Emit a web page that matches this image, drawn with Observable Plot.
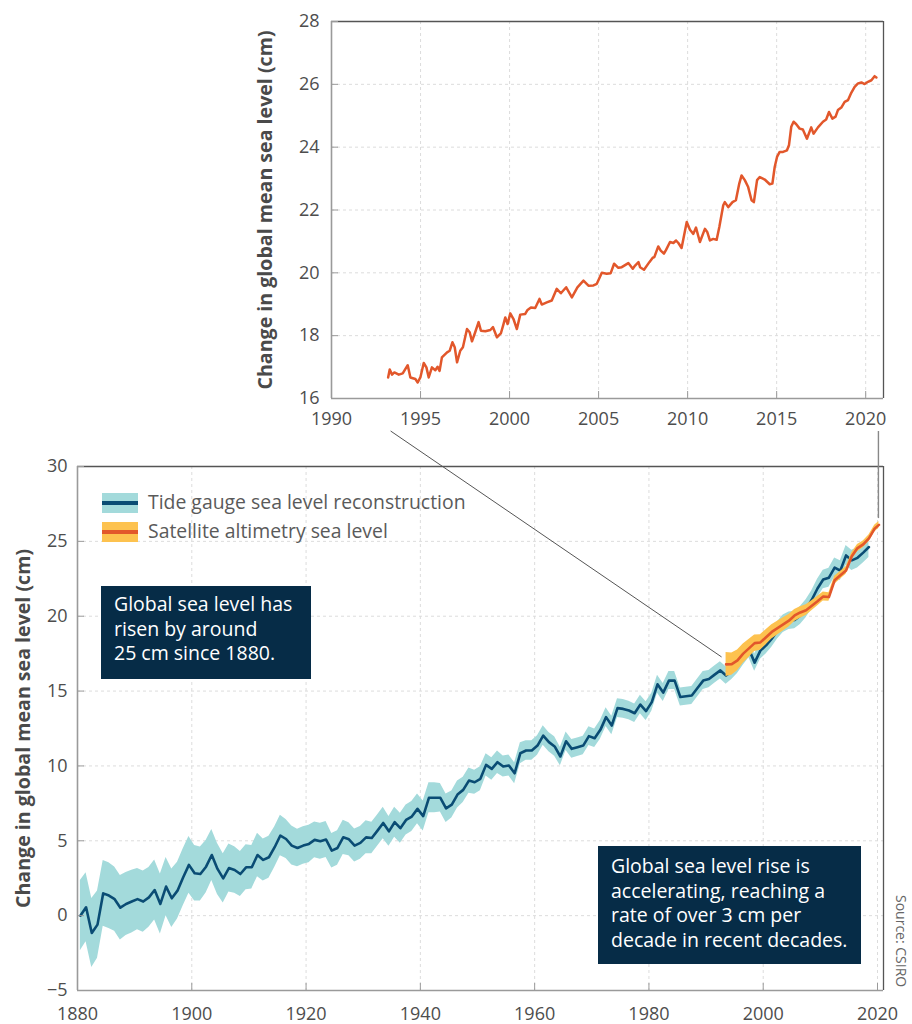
<!DOCTYPE html>
<html>
<head>
<meta charset="utf-8">
<script src="https://cdn.jsdelivr.net/npm/d3@7"></script>
<script src="https://cdn.jsdelivr.net/npm/@observablehq/plot@0.6"></script>
<style>
  body { margin: 0; background: #fff; }
  #wrap { position: relative; width: 912px; height: 1024px; overflow: hidden; font-family: 'Open Sans', sans-serif; }
  #wrap svg { position: absolute; left: 0; }
  [aria-label="y-axis label"] text { font-weight: 700; font-size: 19.6px; fill: #4a4a4a; }
  .note { position: absolute; background: #062c47; color: #fff; font-size: 19.5px; line-height: 24.5px; box-sizing: border-box; }
  .leg { position: absolute; font-size: 19.4px; color: #5a5a5a; white-space: nowrap; }
  .sw { position: absolute; width: 36px; height: 20px; }
  .src { position: absolute; writing-mode: vertical-rl; font-size: 14px; color: #666; white-space: nowrap; }
</style>
</head>
<body>
<div id="wrap"></div>
<script>
// ---------------- data ----------------
const tideStartYear = 1880;
const tideLevel = [
  0.0, 0.56, -1.16, -0.6, 1.49, 1.34, 1.1, 0.53, 0.78, 0.94,
  1.1, 0.94, 1.22, 1.71, 0.78, 1.94, 1.16, 1.67, 2.56, 3.39,
  2.83, 2.78, 3.27, 4.05, 3.12, 2.49, 3.18, 3.05, 2.78, 3.23,
  3.23, 4.05, 3.72, 3.9, 4.57, 5.35, 5.12, 4.68, 4.52, 4.68,
  4.79, 5.06, 4.97, 5.08, 4.34, 4.52, 5.23, 5.1, 4.68, 4.86,
  5.23, 5.19, 5.68, 6.19, 5.63, 6.24, 5.84, 6.39, 6.62, 7.13,
  6.65, 7.87, 7.87, 7.87, 7.17, 7.42, 8.09, 8.4, 9.02, 8.91,
  9.14, 10.07, 9.8, 10.25, 9.96, 10.03, 9.51, 10.85, 11.03, 11.03,
  11.36, 12.03, 11.59, 11.3, 10.63, 11.65, 11.14, 11.25, 11.36, 11.99,
  11.85, 12.41, 13.26, 12.7, 13.86, 13.81, 13.7, 13.52, 14.1, 13.66,
  14.26, 15.45, 14.9, 15.7, 15.7, 14.6, 14.65, 14.7, 15.2, 15.7,
  15.8, 16.1, 16.38, 16.04, 16.35, 16.75, 17.3, 17.8, 16.9, 17.7,
  18.05, 18.5, 19.05, 19.5, 19.7, 19.75, 20.05, 20.5, 21.1, 21.85,
  22.45, 22.57, 23.25, 23.05, 24.06, 23.73, 23.9, 24.25, 24.62
];
const tideUnc = [
  2.35, 2.3, 2.3, 2.25, 2.2, 2.2, 2.15, 2.15, 2.1, 2.1,
  2.05, 2.05, 2.0, 2.0, 2.0, 1.95, 1.95, 1.9, 1.9, 1.9,
  1.85, 1.8, 1.75, 1.7, 1.7, 1.65, 1.6, 1.55, 1.5, 1.5,
  1.45, 1.45, 1.4, 1.4, 1.35, 1.35, 1.3, 1.3, 1.25, 1.25,
  1.25, 1.2, 1.2, 1.2, 1.15, 1.15, 1.15, 1.1, 1.1, 1.1,
  1.1, 1.05, 1.05, 1.05, 1.0, 1.0, 1.0, 1.0, 1.0, 1.0,
  1.0, 1.0, 1.0, 0.95, 0.95, 0.9, 0.9, 0.85, 0.85, 0.8,
  0.8, 0.75, 0.75, 0.75, 0.7, 0.7, 0.7, 0.7, 0.65, 0.65,
  0.65, 0.65, 0.65, 0.65, 0.62, 0.62, 0.62, 0.62, 0.62, 0.62,
  0.62, 0.62, 0.62, 0.62, 0.62, 0.62, 0.62, 0.62, 0.62, 0.62,
  0.6, 0.6, 0.6, 0.6, 0.6, 0.6, 0.6, 0.6, 0.6, 0.6,
  0.58, 0.58, 0.58, 0.58, 0.58, 0.58, 0.58, 0.58, 0.58, 0.58,
  0.58, 0.58, 0.58, 0.58, 0.58, 0.58, 0.6, 0.6, 0.6, 0.62,
  0.62, 0.64, 0.64, 0.66, 0.66, 0.68, 0.68, 0.7, 0.7
];
const satYears = [
  1993.5, 1994.5, 1995.5, 1996.5, 1997.5, 1998.5, 1999.5, 2000.5, 2001.5, 2002.5,
  2003.5, 2004.5, 2005.5, 2006.5, 2007.5, 2008.5, 2009.5, 2010.5, 2011.5, 2012.5,
  2013.5, 2014.5, 2015.5, 2016.5, 2017.5, 2018.5, 2019.5, 2020.25
];
const satLevel = [
  16.78, 16.8, 17.05, 17.5, 17.85, 18.2, 18.25, 18.6, 18.95, 19.2,
  19.45, 19.7, 20.05, 20.25, 20.4, 20.7, 21.0, 21.32, 21.28, 22.4,
  22.73, 23.06, 24.0, 24.55, 24.8, 25.2, 25.85, 26.1
];
const satUnc = [
  0.8, 0.75, 0.7, 0.65, 0.6, 0.55, 0.52, 0.5, 0.48, 0.46,
  0.44, 0.42, 0.4, 0.38, 0.36, 0.34, 0.32, 0.3, 0.28, 0.27,
  0.26, 0.25, 0.24, 0.24, 0.23, 0.23, 0.22, 0.22
];
// inset: satellite altimetry, sub-annual series [year, cm]
const satInset = [
  [1993.18,16.67],[1993.27,16.92],[1993.4,16.76],[1993.53,16.83],[1993.78,16.76],[1994.0,16.8],
  [1994.28,17.06],[1994.43,16.67],[1994.71,16.62],[1994.84,16.51],[1994.99,16.67],[1995.18,17.13],
  [1995.33,16.99],[1995.46,16.67],[1995.64,16.99],[1995.83,16.9],[1995.96,17.01],[1996.07,16.88],
  [1996.2,17.31],[1996.49,17.47],[1996.64,17.52],[1996.79,17.79],[1996.92,17.63],[1997.05,17.15],
  [1997.23,17.52],[1997.38,17.63],[1997.61,18.21],[1997.76,18.11],[1997.89,17.82],[1998.07,18.11],
  [1998.26,18.43],[1998.39,18.16],[1998.64,18.14],[1998.92,18.18],[1999.07,18.27],[1999.29,17.95],
  [1999.51,18.07],[1999.66,18.37],[1999.76,18.58],[1999.89,18.37],[2000.04,18.71],[2000.22,18.53],
  [2000.41,18.21],[2000.6,18.67],[2000.88,18.69],[2001.01,18.82],[2001.2,18.9],[2001.44,18.88],
  [2001.68,19.17],[2001.81,18.99],[2002.09,19.06],[2002.37,19.12],[2002.65,19.49],[2002.88,19.35],
  [2003.18,19.54],[2003.5,19.22],[2003.81,19.54],[2004.15,19.75],[2004.43,19.59],[2004.71,19.6],
  [2004.9,19.65],[2005.18,20.0],[2005.46,19.97],[2005.68,19.99],[2005.87,20.29],[2006.11,20.16],
  [2006.3,20.18],[2006.67,20.31],[2006.92,20.13],[2007.05,20.23],[2007.24,20.34],[2007.33,20.18],
  [2007.55,20.1],[2007.85,20.34],[2008.04,20.48],[2008.13,20.5],[2008.35,20.84],[2008.49,20.71],
  [2008.67,20.61],[2008.79,20.73],[2009.01,20.98],[2009.2,20.95],[2009.35,21.03],[2009.48,20.95],
  [2009.66,20.79],[2009.95,21.62],[2010.13,21.37],[2010.32,21.24],[2010.47,21.44],[2010.69,20.98],
  [2010.97,21.4],[2011.1,21.3],[2011.25,21.03],[2011.44,21.08],[2011.63,21.05],[2011.78,21.46],
  [2012.0,22.15],[2012.09,22.25],[2012.28,22.09],[2012.52,22.25],[2012.71,22.31],[2012.9,22.84],
  [2013.03,23.1],[2013.21,22.95],[2013.4,22.73],[2013.59,22.31],[2013.72,22.25],[2013.9,22.95],
  [2014.05,23.05],[2014.33,22.97],[2014.61,22.82],[2014.76,22.84],[2014.89,23.37],[2015.02,23.69],
  [2015.17,23.85],[2015.36,23.85],[2015.58,23.9],[2015.69,24.06],[2015.82,24.65],[2015.95,24.81],
  [2016.1,24.73],[2016.29,24.59],[2016.47,24.56],[2016.7,24.27],[2016.94,24.63],[2017.07,24.43],
  [2017.32,24.63],[2017.6,24.81],[2017.78,24.88],[2017.94,25.12],[2018.13,24.91],[2018.31,24.97],
  [2018.44,25.18],[2018.63,25.26],[2018.82,25.44],[2019.01,25.5],[2019.19,25.73],[2019.38,25.92],
  [2019.57,26.03],[2019.76,26.06],[2019.94,26.01],[2020.13,26.08],[2020.32,26.13],[2020.5,26.26],
  [2020.6,26.22]
];
const mainXTicks = [1880, 1900, 1920, 1940, 1960, 1980, 2000, 2020];
const mainYTicks = [-5, 0, 5, 10, 15, 20, 25, 30];
const insetXTicks = [1990, 1995, 2000, 2005, 2010, 2015, 2020];
const insetYTicks = [16, 18, 20, 22, 24, 26, 28];
const yTitle = "Change in global mean sea level (cm)";
const tideName = "Tide gauge sea level reconstruction";
const satName = "Satellite altimetry sea level";
const note1 = ["Global sea level has", "risen by around", "25 cm since 1880."];
const note2 = ["Global sea level rise is", "accelerating, reaching a", "rate of over 3 cm per", "decade in recent decades."];
const sourceText = "Source: CSIRO";

const C = { teal: "#a3dadb", blue: "#0a4c74", yellow: "#fdc24f", orange: "#e2572b", grid: "#dcdcdc", axis: "#9a9a9a", frame: "#555" };

// ---------------- tables ----------------
const tide = tideLevel.map((v, i) => ({ year: tideStartYear + i + 0.5, v, lo: v - tideUnc[i], hi: v + tideUnc[i] }));
const sat = satLevel.map((v, i) => ({ year: satYears[i], v, lo: v - satUnc[i], hi: v + satUnc[i] }));
const inset = satInset.map(([year, v]) => ({ year, v }));

const wrap = document.getElementById("wrap");
const baseStyle = { fontFamily: "'Open Sans', sans-serif", fontSize: "18px", color: "#4d4d4d", background: "transparent", overflow: "visible" };

function frameMarks(xd, yd) {
  return [
    Plot.ruleY([yd[1]], { stroke: C.frame, strokeWidth: 1.3 }),
    Plot.ruleX([xd[1]], { stroke: C.frame, strokeWidth: 1.3 }),
    Plot.ruleX([xd[0]], { stroke: C.axis, strokeWidth: 1.6 }),
    Plot.ruleY([yd[0]], { stroke: C.axis, strokeWidth: 1.6 })
  ];
}
const dash = { stroke: C.grid, strokeOpacity: 1, strokeDasharray: "3,3", strokeWidth: 1 };
function stripArrow(svg) {
  svg.querySelectorAll('[aria-label="y-axis label"] text').forEach(t => {
    t.textContent = t.textContent.replace(/\s*[↑↓]\s*/g, "").trim();
  });
}

// ---------------- inset ----------------
const ixd = [1990, 2021], iyd = [16, 28];
const insetPlot = Plot.plot({
  width: 912, height: 440,
  marginTop: 21, marginBottom: 42, marginLeft: 331, marginRight: 29,
  x: { domain: ixd }, y: { domain: iyd },
  style: baseStyle,
  marks: [
    Plot.gridX(insetXTicks, dash),
    Plot.gridY(insetYTicks, dash),
    Plot.lineY(inset, { x: "year", y: "v", stroke: C.orange, strokeWidth: 2.5, strokeLinejoin: "round" }),
    ...frameMarks(ixd, iyd),
    Plot.axisX(insetXTicks, { tickSize: -7, tickPadding: 21, tickFormat: d => String(d), label: null, stroke: C.axis }),
    Plot.axisY(insetYTicks, { tickSize: -7, tickPadding: 19, label: yTitle, labelArrow: "none", labelAnchor: "center", labelOffset: 73, stroke: C.axis })
  ]
});
stripArrow(insetPlot);
insetPlot.style.top = "0px";
wrap.appendChild(insetPlot);

// ---------------- main ----------------
const mxd = [1880, 2021.05], myd = [-5, 30];
const MAIN_TOP = 440;
const mainPlot = Plot.plot({
  width: 912, height: 584,
  marginTop: 26, marginBottom: 34, marginLeft: 77, marginRight: 29,
  x: { domain: mxd }, y: { domain: myd },
  style: baseStyle,
  marks: [
    Plot.gridX(mainXTicks, dash),
    Plot.gridY(mainYTicks, dash),
    Plot.areaY(tide, { x: "year", y1: "lo", y2: "hi", fill: C.teal }),
    Plot.lineY(tide, { x: "year", y: "v", stroke: C.blue, strokeWidth: 2.6, strokeLinejoin: "round" }),
    Plot.areaY(sat, { x: "year", y1: "lo", y2: "hi", fill: C.yellow }),
    Plot.lineY(sat, { x: "year", y: "v", stroke: C.orange, strokeWidth: 2.6, strokeLinejoin: "round" }),
    ...frameMarks(mxd, myd),
    Plot.axisX(mainXTicks, { tickSize: -7, tickPadding: 24, tickFormat: d => String(d), label: null, stroke: C.axis }),
    Plot.axisY(mainYTicks, { tickSize: -7, tickPadding: 17, label: yTitle, labelArrow: "none", labelAnchor: "center", labelOffset: 61, stroke: C.axis })
  ]
});
stripArrow(mainPlot);
mainPlot.style.top = MAIN_TOP + "px";
wrap.appendChild(mainPlot);

// ---------------- connectors (from the two plots' scales) ----------------
const ix = insetPlot.scale("x"), iy = insetPlot.scale("y");
const mx = mainPlot.scale("x"), my = mainPlot.scale("y");
const insetBottom = iy.apply(iyd[0]);
const startY = insetBottom + 33;
const over = d3.select(wrap).append("svg").attr("width", 912).attr("height", 1024).style("top", "0px").style("pointer-events", "none");
const s0 = sat[0], sN = sat[sat.length - 1];
over.append("line")
  .attr("x1", ix.apply(inset[0].year) + 3).attr("y1", startY)
  .attr("x2", mx.apply(s0.year) - 4).attr("y2", MAIN_TOP + my.apply(s0.hi) + 5)
  .attr("stroke", "#555").attr("stroke-width", 1);
over.append("line")
  .attr("x1", mx.apply(sN.year)).attr("y1", startY)
  .attr("x2", mx.apply(sN.year)).attr("y2", MAIN_TOP + my.apply(sN.hi) - 3)
  .attr("stroke", "#888").attr("stroke-width", 1.4);

// ---------------- legend ----------------
function swatch(top, band, line) {
  const s = document.createElement("div");
  s.className = "sw";
  s.style.left = "102px"; s.style.top = top + "px";
  s.style.background = `linear-gradient(${band} 0 42%, ${line} 42% 58%, ${band} 58% 100%)`;
  wrap.appendChild(s);
}
function legText(top, txt) {
  const t = document.createElement("div");
  t.className = "leg"; t.style.left = "148px"; t.style.top = top + "px"; t.textContent = txt;
  wrap.appendChild(t);
}
swatch(493, C.teal, C.blue); legText(488, tideName);
swatch(522, C.yellow, C.orange); legText(517, satName);

// ---------------- notes ----------------
function note(lines, left, top, w, h, padTop) {
  const d = document.createElement("div");
  d.className = "note";
  Object.assign(d.style, { left: left + "px", top: top + "px", width: w + "px", height: h + "px", padding: padTop + "px 0 0 13px" });
  d.innerHTML = lines.join("<br>");
  wrap.appendChild(d);
}
note(note1, 101, 586, 210, 93, 6);
note(note2, 598, 846, 263, 118, 8);

const src = document.createElement("div");
src.className = "src"; src.style.left = "892px"; src.style.top = "895px"; src.textContent = sourceText;
wrap.appendChild(src);
</script>
</body>
</html>
